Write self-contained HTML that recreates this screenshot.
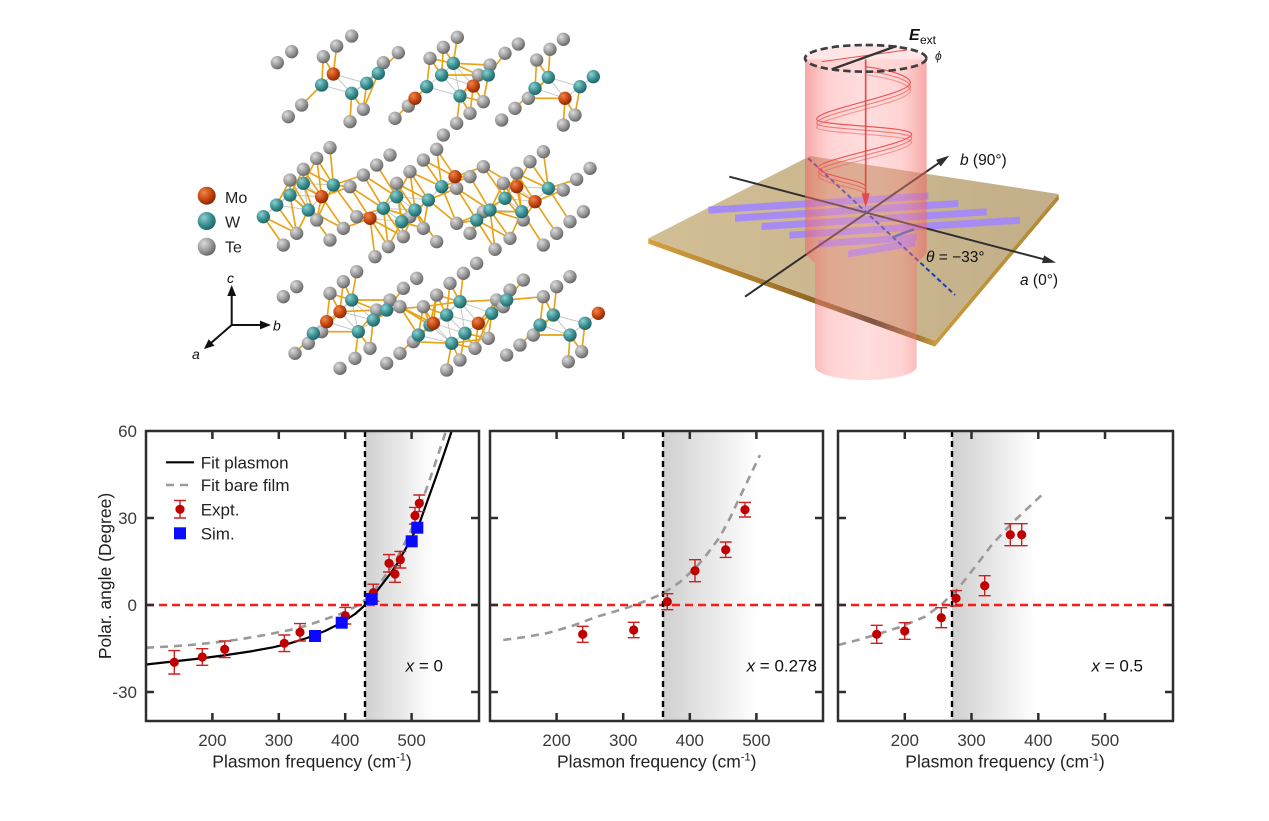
<!DOCTYPE html>
<html><head><meta charset="utf-8"><style>
html,body{margin:0;padding:0;background:#fff;}
svg{display:block;}
</style></head><body>
<svg width="1269" height="821" viewBox="0 0 1269 821" font-family="'Liberation Sans', Arial, sans-serif">
<defs>
 <radialGradient id="gG" cx="0.35" cy="0.32" r="0.75"><stop offset="0" stop-color="#dcdcdc"/><stop offset="0.55" stop-color="#9a9a9a"/><stop offset="1" stop-color="#5e5e5e"/></radialGradient>
 <radialGradient id="gT" cx="0.35" cy="0.32" r="0.75"><stop offset="0" stop-color="#8fd0d0"/><stop offset="0.55" stop-color="#3a8f91"/><stop offset="1" stop-color="#1a5e60"/></radialGradient>
 <radialGradient id="gO" cx="0.35" cy="0.32" r="0.75"><stop offset="0" stop-color="#f0854a"/><stop offset="0.55" stop-color="#c4460f"/><stop offset="1" stop-color="#7e2504"/></radialGradient>
 <linearGradient id="sh" x1="0" x2="1" y1="0" y2="0"><stop offset="0" stop-color="#d0d0d0"/><stop offset="1" stop-color="#ffffff"/></linearGradient>
 <linearGradient id="plate" gradientUnits="userSpaceOnUse" x1="55" y1="0" x2="1285" y2="0"><stop offset="0" stop-color="#d2bf95"/><stop offset="1" stop-color="#c2ae88"/></linearGradient>
 <linearGradient id="edge" gradientUnits="userSpaceOnUse" x1="55" y1="0" x2="1285" y2="0"><stop offset="0" stop-color="#d8a040"/><stop offset="0.45" stop-color="#8a6020"/><stop offset="0.55" stop-color="#3a2a12"/><stop offset="0.7" stop-color="#c89a40"/><stop offset="1" stop-color="#b08838"/></linearGradient>
 <linearGradient id="cyl" gradientUnits="userSpaceOnUse" x1="525" y1="0" x2="890" y2="0">
  <stop offset="0" stop-color="#f06060" stop-opacity="0.55"/>
  <stop offset="0.2" stop-color="#ff9090" stop-opacity="0.4"/>
  <stop offset="0.5" stop-color="#ffa0a0" stop-opacity="0.35"/>
  <stop offset="0.8" stop-color="#ff9090" stop-opacity="0.4"/>
  <stop offset="1" stop-color="#f06060" stop-opacity="0.55"/>
 </linearGradient>
 <clipPath id="c1"><rect x="146" y="431" width="333" height="290"/></clipPath>
 <clipPath id="c2"><rect x="490" y="431" width="333" height="290"/></clipPath>
 <clipPath id="c3"><rect x="838" y="431" width="335" height="290"/></clipPath>
</defs>

<!-- ================= CRYSTAL STRUCTURE ================= -->
<g id="crys" transform="translate(170,20) scale(0.33333)">
 <g id="mbonds" stroke="#c8c8c8" stroke-width="3"></g>
 <g id="bonds" stroke="#e8a317" stroke-width="5"></g>
 <g fill="url(#gG)">
  <circle class="g" cx="322" cy="128" r="20"/><circle class="g" cx="365" cy="95" r="20"/><circle class="g" cx="460" cy="110" r="20"/><circle class="g" cx="500" cy="78" r="20"/><circle class="g" cx="545" cy="48" r="20"/><circle class="g" cx="640" cy="128" r="20"/><circle class="g" cx="685" cy="98" r="20"/><circle class="g" cx="780" cy="115" r="20"/><circle class="g" cx="820" cy="82" r="20"/><circle class="g" cx="862" cy="52" r="20"/><circle class="g" cx="960" cy="135" r="20"/><circle class="g" cx="1005" cy="100" r="20"/><circle class="g" cx="1045" cy="72" r="20"/><circle class="g" cx="1100" cy="120" r="20"/><circle class="g" cx="1140" cy="88" r="20"/><circle class="g" cx="1180" cy="58" r="20"/><circle class="g" cx="925" cy="165" r="20"/><circle class="g" cx="355" cy="290" r="20"/><circle class="g" cx="395" cy="255" r="20"/><circle class="g" cx="540" cy="305" r="20"/><circle class="g" cx="580" cy="268" r="20"/><circle class="g" cx="675" cy="295" r="20"/><circle class="g" cx="715" cy="258" r="20"/><circle class="g" cx="820" cy="345" r="20"/><circle class="g" cx="860" cy="310" r="20"/><circle class="g" cx="900" cy="280" r="20"/><circle class="g" cx="995" cy="300" r="20"/><circle class="g" cx="1035" cy="265" r="20"/><circle class="g" cx="1075" cy="235" r="20"/><circle class="g" cx="1180" cy="315" r="20"/><circle class="g" cx="1215" cy="285" r="20"/><circle class="g" cx="940" cy="245" r="20"/>
  <circle class="g" cx="480" cy="383" r="20"/><circle class="g" cx="440" cy="415" r="20"/><circle class="g" cx="400" cy="448" r="20"/><circle class="g" cx="360" cy="480" r="20"/><circle class="g" cx="660" cy="405" r="20"/><circle class="g" cx="620" cy="435" r="20"/><circle class="g" cx="580" cy="465" r="20"/><circle class="g" cx="540" cy="500" r="20"/><circle class="g" cx="760" cy="420" r="20"/><circle class="g" cx="800" cy="388" r="20"/><circle class="g" cx="720" cy="455" r="20"/><circle class="g" cx="680" cy="490" r="20"/><circle class="g" cx="940" cy="440" r="20"/><circle class="g" cx="900" cy="470" r="20"/><circle class="g" cx="1080" cy="425" r="20"/><circle class="g" cx="1120" cy="395" r="20"/><circle class="g" cx="1040" cy="460" r="20"/><circle class="g" cx="1000" cy="490" r="20"/><circle class="g" cx="1260" cy="445" r="20"/><circle class="g" cx="1220" cy="478" r="20"/><circle class="g" cx="1180" cy="510" r="20"/><circle class="g" cx="1240" cy="575" r="20"/><circle class="g" cx="1200" cy="605" r="20"/><circle class="g" cx="1160" cy="640" r="20"/><circle class="g" cx="1120" cy="675" r="20"/><circle class="g" cx="1060" cy="600" r="20"/><circle class="g" cx="1020" cy="655" r="20"/><circle class="g" cx="975" cy="688" r="20"/><circle class="g" cx="940" cy="575" r="20"/><circle class="g" cx="900" cy="640" r="20"/><circle class="g" cx="860" cy="610" r="20"/><circle class="g" cx="800" cy="665" r="20"/><circle class="g" cx="760" cy="625" r="20"/><circle class="g" cx="720" cy="590" r="20"/><circle class="g" cx="700" cy="650" r="20"/><circle class="g" cx="655" cy="680" r="20"/><circle class="g" cx="615" cy="710" r="20"/><circle class="g" cx="560" cy="590" r="20"/><circle class="g" cx="520" cy="625" r="20"/><circle class="g" cx="480" cy="660" r="20"/><circle class="g" cx="440" cy="600" r="20"/><circle class="g" cx="380" cy="640" r="20"/><circle class="g" cx="340" cy="675" r="20"/><circle class="g" cx="860" cy="505" r="20"/>
  <circle class="g" cx="560" cy="755" r="20"/><circle class="g" cx="520" cy="785" r="20"/><circle class="g" cx="480" cy="820" r="20"/><circle class="g" cx="340" cy="830" r="20"/><circle class="g" cx="380" cy="800" r="20"/><circle class="g" cx="740" cy="775" r="20"/><circle class="g" cx="700" cy="805" r="20"/><circle class="g" cx="660" cy="840" r="20"/><circle class="g" cx="620" cy="870" r="20"/><circle class="g" cx="880" cy="760" r="20"/><circle class="g" cx="920" cy="730" r="20"/><circle class="g" cx="840" cy="790" r="20"/><circle class="g" cx="800" cy="825" r="20"/><circle class="g" cx="760" cy="860" r="20"/><circle class="g" cx="1060" cy="780" r="20"/><circle class="g" cx="1020" cy="810" r="20"/><circle class="g" cx="980" cy="840" r="20"/><circle class="g" cx="1200" cy="770" r="20"/><circle class="g" cx="1160" cy="800" r="20"/><circle class="g" cx="1120" cy="830" r="20"/><circle class="g" cx="375" cy="1000" r="20"/><circle class="g" cx="415" cy="970" r="20"/><circle class="g" cx="455" cy="935" r="20"/><circle class="g" cx="510" cy="1045" r="20"/><circle class="g" cx="555" cy="1015" r="20"/><circle class="g" cx="600" cy="985" r="20"/><circle class="g" cx="650" cy="1030" r="20"/><circle class="g" cx="690" cy="1000" r="20"/><circle class="g" cx="730" cy="965" r="20"/><circle class="g" cx="830" cy="1050" r="20"/><circle class="g" cx="870" cy="1020" r="20"/><circle class="g" cx="915" cy="985" r="20"/><circle class="g" cx="955" cy="955" r="20"/><circle class="g" cx="1010" cy="1005" r="20"/><circle class="g" cx="1050" cy="975" r="20"/><circle class="g" cx="1090" cy="945" r="20"/><circle class="g" cx="1195" cy="1025" r="20"/><circle class="g" cx="1235" cy="995" r="20"/><circle class="g" cx="690" cy="860" r="20"/><circle class="g" cx="1000" cy="860" r="20"/>
 </g>
 <g fill="url(#gT)">
  <circle class="m" cx="455" cy="195" r="20"/><circle class="m" cx="545" cy="220" r="20"/><circle class="m" cx="590" cy="190" r="20"/><circle class="m" cx="625" cy="160" r="20"/><circle class="m" cx="770" cy="200" r="20"/><circle class="m" cx="815" cy="165" r="20"/><circle class="m" cx="850" cy="130" r="20"/><circle class="m" cx="870" cy="228" r="20"/><circle class="m" cx="955" cy="165" r="20"/><circle class="m" cx="1095" cy="205" r="20"/><circle class="m" cx="1135" cy="172" r="20"/><circle class="m" cx="1230" cy="200" r="20"/><circle class="m" cx="1270" cy="170" r="20"/>
  <circle class="m" cx="400" cy="490" r="20"/><circle class="m" cx="490" cy="495" r="20"/><circle class="m" cx="360" cy="525" r="20"/><circle class="m" cx="320" cy="555" r="20"/><circle class="m" cx="280" cy="590" r="20"/><circle class="m" cx="415" cy="570" r="20"/><circle class="m" cx="640" cy="565" r="20"/><circle class="m" cx="680" cy="530" r="20"/><circle class="m" cx="735" cy="570" r="20"/><circle class="m" cx="775" cy="540" r="20"/><circle class="m" cx="815" cy="500" r="20"/><circle class="m" cx="695" cy="605" r="20"/><circle class="m" cx="920" cy="600" r="20"/><circle class="m" cx="960" cy="570" r="20"/><circle class="m" cx="1005" cy="535" r="20"/><circle class="m" cx="1055" cy="575" r="20"/><circle class="m" cx="1135" cy="505" r="20"/>
  <circle class="m" cx="430" cy="940" r="20"/><circle class="m" cx="545" cy="840" r="20"/><circle class="m" cx="565" cy="935" r="20"/><circle class="m" cx="610" cy="900" r="20"/><circle class="m" cx="650" cy="870" r="20"/><circle class="m" cx="745" cy="945" r="20"/><circle class="m" cx="780" cy="915" r="20"/><circle class="m" cx="830" cy="885" r="20"/><circle class="m" cx="870" cy="845" r="20"/><circle class="m" cx="845" cy="970" r="20"/><circle class="m" cx="885" cy="940" r="20"/><circle class="m" cx="965" cy="880" r="20"/><circle class="m" cx="1010" cy="840" r="20"/><circle class="m" cx="1110" cy="915" r="20"/><circle class="m" cx="1150" cy="885" r="20"/><circle class="m" cx="1200" cy="945" r="20"/><circle class="m" cx="1245" cy="910" r="20"/>
 </g>
 <g fill="url(#gO)">
  <circle class="m" cx="490" cy="162" r="20"/><circle class="m" cx="735" cy="235" r="20"/><circle class="m" cx="910" cy="198" r="20"/><circle class="m" cx="1185" cy="235" r="20"/>
  <circle class="m" cx="455" cy="530" r="20"/><circle class="m" cx="600" cy="595" r="20"/><circle class="m" cx="855" cy="470" r="20"/><circle class="m" cx="1040" cy="500" r="20"/><circle class="m" cx="1095" cy="545" r="20"/>
  <circle class="m" cx="470" cy="905" r="20"/><circle class="m" cx="510" cy="875" r="20"/><circle class="m" cx="790" cy="910" r="20"/><circle class="m" cx="925" cy="910" r="20"/><circle class="m" cx="1285" cy="880" r="20"/>
 </g>
</g>

<!-- crystal legend -->
<circle cx="206.7" cy="195.7" r="9" fill="url(#gO)"/>
<circle cx="206.7" cy="221" r="9" fill="url(#gT)"/>
<circle cx="206.7" cy="246.7" r="9" fill="url(#gG)"/>
<text x="225" y="203" font-size="16" fill="#222">Mo</text>
<text x="225" y="227.5" font-size="16" fill="#222">W</text>
<text x="225" y="252.5" font-size="16" fill="#222">Te</text>
<!-- crystal axes -->
<g stroke="#111" stroke-width="2" fill="none">
 <line x1="231.7" y1="325" x2="231.7" y2="294"/>
 <line x1="231.7" y1="325" x2="262" y2="325"/>
 <line x1="231.7" y1="325" x2="211" y2="343"/>
</g>
<g fill="#111">
 <polygon points="231.7,285 227.3,296 236.1,296"/>
 <polygon points="271,325 260,320.6 260,329.4"/>
 <polygon points="204,349 214.5,345.8 208.7,339.2"/>
</g>
<g font-size="14" font-style="italic" fill="#111">
 <text x="227" y="283">c</text>
 <text x="273" y="330.5">b</text>
 <text x="192" y="359">a</text>
</g>

<!-- ================= SCHEMATIC ================= -->
<g transform="translate(630,20) scale(0.33333)">
 <polygon points="55,655 915,962 1285,522 1287,538 915,980 55,671" fill="url(#edge)"/>
 <polygon points="55,655 540,408 1285,522 915,962" fill="url(#plate)"/>
 <g fill="#a68bf2">
  <polygon points="235,560 895,517 895,538 235,581"/>
  <polygon points="315,584 985,540 985,561 315,605"/>
  <polygon points="395,609 1070,565 1070,586 395,630"/>
  <polygon points="478,635 1170,590 1170,611 478,656"/>
  <polygon points="565,661 860,642 860,663 565,682"/>
  <polygon points="655,691 855,658 855,679 655,712"/>
 </g>
 <g stroke="#2e2e2e" stroke-width="6" fill="none">
  <line x1="298" y1="470" x2="1242" y2="718"/>
  <line x1="345" y1="830" x2="928" y2="428"/>
 </g>
 <polygon points="1278,728 1236,729.4 1242.4,706.2" fill="#2e2e2e"/>
 <polygon points="958,407 931.9,439.6 918.3,419.8" fill="#2e2e2e"/>
 <line x1="535" y1="415" x2="975" y2="825" stroke="#1a3fb0" stroke-width="6" stroke-dasharray="14,9"/>
 <path d="M788,652 Q820,638 852,628" stroke="#1a5fd0" stroke-width="7" fill="none"/>
 <!-- cylinder -->
 <path d="M525,118 L525,700 L555,730 L555,1040 A152.5,40 0 0 0 860,1040 L860,730 L890,700 L890,118 Z" fill="url(#cyl)"/>
 <ellipse cx="707" cy="115" rx="182" ry="40" fill="#ffd6d6" fill-opacity="0.6"/>
 <!-- wave -->
 <g stroke="#ef5555" stroke-width="3.5" fill="none">
  <path d="M707,140 C780,150 850,170 840,192 C820,228 560,268 560,298 C560,318 850,318 845,343 C840,373 560,418 565,443 C570,468 690,478 707,498"/>
  <path d="M707,152 C780,162 850,182 840,204 C820,240 560,280 560,310 C560,330 850,330 845,355 C840,385 560,430 565,455 C570,480 690,490 707,510" stroke-opacity="0.7"/>
  <path d="M707,164 C780,174 850,194 840,216 C820,252 560,292 560,322 C560,342 850,342 845,367 C840,397 560,442 565,467 C570,492 690,502 707,522" stroke-opacity="0.5"/>
 </g>
 <line x1="707" y1="118" x2="707" y2="525" stroke="#e84848" stroke-width="5"/>
 <polygon points="695,520 719,520 707,562" fill="#e84848"/>
 <line x1="830" y1="90" x2="575" y2="125" stroke="#e85050" stroke-width="3"/>
 <line x1="605" y1="148" x2="800" y2="78" stroke="#333" stroke-width="7"/>
 <ellipse cx="707" cy="115" rx="182" ry="40" fill="none" stroke="#3e3e3e" stroke-width="8" stroke-dasharray="22,12"/>
</g>
<text x="909" y="40" font-size="16" font-weight="bold" font-style="italic" fill="#111">E</text>
<text x="920" y="44" font-size="12" fill="#111">ext</text>
<text x="935" y="60" font-size="12" font-style="italic" fill="#222">ϕ</text>
<text x="960" y="165" font-size="15.5" fill="#111"><tspan font-style="italic">b</tspan> (90°)</text>
<text x="1020" y="285" font-size="15.5" fill="#111"><tspan font-style="italic">a</tspan> (0°)</text>
<text x="926" y="262" font-size="15.5" fill="#111"><tspan font-style="italic">θ</tspan> = −33°</text>

<!-- ================= PANEL 1 ================= -->
<g clip-path="url(#c1)">
 <rect x="365" y="431" width="68" height="290" fill="url(#sh)"/>
 <polyline points="146,647.7 170,646.5 190,645 215,642.5 240,639.3 265,635 290,630 307,625.5 323,620 340,614 357,606 370,596 383,579 397,558 410,533 420,507 430,479 438,455 446,431 448,425" fill="none" stroke="#9a9a9a" stroke-width="2.6" stroke-dasharray="8,6" stroke-linejoin="round"/>
 <polyline points="146,664.5 173,661.5 200,658.5 223,655.5 250,651.5 273,647.3 290,643.3 307,638 325,631 342,622.5 355,614 363,607 377,591 390,574 397,564 410,541 420,521.7 436.7,475 444,454 451.7,431 454,425" fill="none" stroke="#000" stroke-width="2.2" stroke-linejoin="round"/>
 <line x1="146" y1="605" x2="479" y2="605" stroke="#ff1a1a" stroke-width="2.6" stroke-dasharray="8,5"/>
 <line x1="365" y1="431" x2="365" y2="721" stroke="#000" stroke-width="2.4" stroke-dasharray="6,4"/>
 <g stroke="#cc2020" stroke-width="1.4" fill="none">
  <path d="M174.3,650.6V674M168.3,650.6h12M168.3,674h12"/>
  <path d="M202.3,648.7V665.3M196.3,648.7h12M196.3,665.3h12"/>
  <path d="M224.7,641V657.6M218.7,641h12M218.7,657.6h12"/>
  <path d="M284.3,635V651.6M278.3,635h12M278.3,651.6h12"/>
  <path d="M300,623.6V641M294,623.6h12M294,641h12"/>
  <path d="M345.3,607.4V624M339.3,607.4h12M339.3,624h12"/>
  <path d="M373.3,584.2V601.2M367.3,584.2h12M367.3,601.2h12"/>
  <path d="M389,554.6V572M383,554.6h12M383,572h12"/>
  <path d="M395,565.7V582.3M389,565.7h12M389,582.3h12"/>
  <path d="M400.3,551.4V568M394.3,551.4h12M394.3,568h12"/>
  <path d="M415,507.4V524M409,507.4h12M409,524h12"/>
  <path d="M419.3,495V511.6M413.3,495h12M413.3,511.6h12"/>
 </g>
 <g fill="#c00000">
  <circle cx="174.3" cy="662.3" r="4.6"/><circle cx="202.3" cy="657" r="4.6"/><circle cx="224.7" cy="649.3" r="4.6"/><circle cx="284.3" cy="643.3" r="4.6"/><circle cx="300" cy="632.3" r="4.6"/><circle cx="345.3" cy="615.7" r="4.6"/><circle cx="373.3" cy="592.7" r="4.6"/><circle cx="389" cy="563.3" r="4.6"/><circle cx="395" cy="574" r="4.6"/><circle cx="400.3" cy="559.7" r="4.6"/><circle cx="415" cy="515.7" r="4.6"/><circle cx="419.3" cy="503.3" r="4.6"/>
 </g>
 <g fill="#0a0aff">
  <rect x="309" y="630" width="12" height="12"/><rect x="335.7" y="616.7" width="12" height="12"/><rect x="365.7" y="593" width="12" height="12"/><rect x="405.7" y="535.3" width="12" height="12"/><rect x="411.3" y="521.7" width="12" height="12"/>
 </g>
</g>
<!-- legend -->
<line x1="166" y1="462.3" x2="194" y2="462.3" stroke="#000" stroke-width="2.2"/>
<line x1="166" y1="485" x2="194" y2="485" stroke="#9a9a9a" stroke-width="2.6" stroke-dasharray="8,6"/>
<path d="M180,500.5V518M174,500.5h12M174,518h12" stroke="#cc2020" stroke-width="1.4" fill="none"/>
<circle cx="180" cy="509.3" r="4.6" fill="#c00000"/>
<rect x="174" y="527.3" width="12" height="12" fill="#0a0aff"/>
<g font-size="17" fill="#222">
 <text x="200.7" y="468.5">Fit plasmon</text>
 <text x="200.7" y="491">Fit bare film</text>
 <text x="200.7" y="515.5">Expt.</text>
 <text x="200.7" y="539.5">Sim.</text>
</g>
<rect x="146" y="431" width="333" height="290" fill="none" stroke="#2e2e2e" stroke-width="2.5"/>
<path d="M146,518h8M146,605h8M146,692h8M479,518h-8M479,605h-8M479,692h-8M212.4,721v-8M278.8,721v-8M345.2,721v-8M411.6,721v-8M212.4,431v8M278.8,431v8M345.2,431v8M411.6,431v8" stroke="#2e2e2e" stroke-width="2.5"/>
<g font-size="17" fill="#3a3a3a" text-anchor="end">
 <text x="137" y="437">60</text>
 <text x="137" y="524">30</text>
 <text x="137" y="611">0</text>
 <text x="137" y="698">-30</text>
</g>
<g font-size="17" fill="#3a3a3a" text-anchor="middle">
 <text x="212.4" y="746">200</text><text x="278.8" y="746">300</text><text x="345.2" y="746">400</text><text x="411.6" y="746">500</text>
 <text x="556.6" y="746">200</text><text x="623.2" y="746">300</text><text x="689.8" y="746">400</text><text x="756.4" y="746">500</text>
 <text x="904.8" y="746">200</text><text x="971.5" y="746">300</text><text x="1038.3" y="746">400</text><text x="1105" y="746">500</text>
</g>
<text transform="translate(111,576) rotate(-90)" text-anchor="middle" font-size="17.5" fill="#222">Polar. angle (Degree)</text>
<g font-size="17.5" fill="#222" text-anchor="middle">
 <text x="312" y="767.5">Plasmon frequency (cm<tspan font-size="11" dy="-7">-1</tspan><tspan dy="7">)</tspan></text>
 <text x="656.7" y="767.5">Plasmon frequency (cm<tspan font-size="11" dy="-7">-1</tspan><tspan dy="7">)</tspan></text>
 <text x="1005" y="767.5">Plasmon frequency (cm<tspan font-size="11" dy="-7">-1</tspan><tspan dy="7">)</tspan></text>
</g>
<text x="443" y="671.5" font-size="17" fill="#111" text-anchor="end"><tspan font-style="italic">x</tspan> = 0</text>

<!-- ================= PANEL 2 ================= -->
<g clip-path="url(#c2)">
 <rect x="663" y="431" width="94" height="290" fill="url(#sh)"/>
 <polyline points="503.3,640 525,637 546.7,633.3 572,626 596.7,616.7 613,612 630,606.7 647,600.5 663.3,593.3 680,582 696.7,566.7 708,553 720,536.7 730,518 740,496.7 750,476 760,455" fill="none" stroke="#9a9a9a" stroke-width="2.6" stroke-dasharray="8,6" stroke-linejoin="round"/>
 <line x1="490" y1="605" x2="823" y2="605" stroke="#ff1a1a" stroke-width="2.6" stroke-dasharray="8,5"/>
 <line x1="663" y1="431" x2="663" y2="721" stroke="#000" stroke-width="2.4" stroke-dasharray="6,4"/>
 <g stroke="#cc2020" stroke-width="1.4" fill="none">
  <path d="M582.7,626.3V642.3M576.7,626.3h12M576.7,642.3h12"/>
  <path d="M633.7,622.3V637.7M627.7,622.3h12M627.7,637.7h12"/>
  <path d="M667.3,593.7V609.7M661.3,593.7h12M661.3,609.7h12"/>
  <path d="M695,559.7V581.7M689,559.7h12M689,581.7h12"/>
  <path d="M725.7,542V557.4M719.7,542h12M719.7,557.4h12"/>
  <path d="M745,502.4V517M739,502.4h12M739,517h12"/>
 </g>
 <g fill="#c00000">
  <circle cx="582.7" cy="634.3" r="4.6"/><circle cx="633.7" cy="630" r="4.6"/><circle cx="667.3" cy="601.7" r="4.6"/><circle cx="695" cy="570.7" r="4.6"/><circle cx="725.7" cy="549.7" r="4.6"/><circle cx="745" cy="509.7" r="4.6"/>
 </g>
</g>
<rect x="490" y="431" width="333" height="290" fill="none" stroke="#2e2e2e" stroke-width="2.5"/>
<path d="M490,518h8M490,605h8M490,692h8M823,518h-8M823,605h-8M823,692h-8M556.6,721v-8M623.2,721v-8M689.8,721v-8M756.4,721v-8M556.6,431v8M623.2,431v8M689.8,431v8M756.4,431v8" stroke="#2e2e2e" stroke-width="2.5"/>
<text x="817" y="671.5" font-size="17" fill="#111" text-anchor="end"><tspan font-style="italic">x</tspan> = 0.278</text>

<!-- ================= PANEL 3 ================= -->
<g clip-path="url(#c3)">
 <rect x="952" y="431" width="84" height="290" fill="url(#sh)"/>
 <polyline points="838.3,645 856,640.5 875,635 900,627 925,616.7 942,604 958.3,588.3 975,567 991.7,545 1011.7,523.3 1041.7,495" fill="none" stroke="#9a9a9a" stroke-width="2.6" stroke-dasharray="8,6" stroke-linejoin="round"/>
 <line x1="838" y1="605" x2="1173" y2="605" stroke="#ff1a1a" stroke-width="2.6" stroke-dasharray="8,5"/>
 <line x1="952" y1="431" x2="952" y2="721" stroke="#000" stroke-width="2.4" stroke-dasharray="6,4"/>
 <g stroke="#cc2020" stroke-width="1.4" fill="none">
  <path d="M876.7,625.3V643.3M870.7,625.3h12M870.7,643.3h12"/>
  <path d="M904.7,622.7V639.3M898.7,622.7h12M898.7,639.3h12"/>
  <path d="M941.3,607.7V627.7M935.3,607.7h12M935.3,627.7h12"/>
  <path d="M956,590.6V606M950,590.6h12M950,606h12"/>
  <path d="M984.7,575.7V595.7M978.7,575.7h12M978.7,595.7h12"/>
  <path d="M1010.3,523.7V545.7M1004.3,523.7h12M1004.3,545.7h12"/>
  <path d="M1021.7,523.7V545.7M1015.7,523.7h12M1015.7,545.7h12"/>
 </g>
 <g fill="#c00000">
  <circle cx="876.7" cy="634.3" r="4.6"/><circle cx="904.7" cy="631" r="4.6"/><circle cx="941.3" cy="617.7" r="4.6"/><circle cx="956" cy="598.3" r="4.6"/><circle cx="984.7" cy="585.7" r="4.6"/><circle cx="1010.3" cy="534.7" r="4.6"/><circle cx="1021.7" cy="534.7" r="4.6"/>
 </g>
</g>
<rect x="838" y="431" width="335" height="290" fill="none" stroke="#2e2e2e" stroke-width="2.5"/>
<path d="M838,518h8M838,605h8M838,692h8M1173,518h-8M1173,605h-8M1173,692h-8M904.8,721v-8M971.5,721v-8M1038.3,721v-8M1105,721v-8M904.8,431v8M971.5,431v8M1038.3,431v8M1105,431v8" stroke="#2e2e2e" stroke-width="2.5"/>
<text x="1143" y="671.5" font-size="17" fill="#111" text-anchor="end"><tspan font-style="italic">x</tspan> = 0.5</text>
</svg>
<script>
(function(){
 var g=document.getElementById('crys');
 var cs=g.querySelectorAll('circle');
 var M=[],T=[];
 for(var i=0;i<cs.length;i++){var c=cs[i];var o={x:+c.getAttribute('cx'),y:+c.getAttribute('cy')};
  if(c.getAttribute('class')==='g')T.push(o);else M.push(o);}
 var s='',s2='';
 for(var i=0;i<M.length;i++){
  for(var j=0;j<T.length;j++){var dx=M[i].x-T[j].x,dy=M[i].y-T[j].y,d=Math.sqrt(dx*dx+dy*dy);
   if(d<120&&d>25)s+='<line x1="'+M[i].x+'" y1="'+M[i].y+'" x2="'+T[j].x+'" y2="'+T[j].y+'"/>';}
  for(var k=i+1;k<M.length;k++){var dx=M[i].x-M[k].x,dy=M[i].y-M[k].y,d=Math.sqrt(dx*dx+dy*dy);
   if(d<105)s2+='<line x1="'+M[i].x+'" y1="'+M[i].y+'" x2="'+M[k].x+'" y2="'+M[k].y+'"/>';}
 }
 document.getElementById('bonds').innerHTML=s;
 document.getElementById('mbonds').innerHTML=s2;
})();
</script>
</body></html>
